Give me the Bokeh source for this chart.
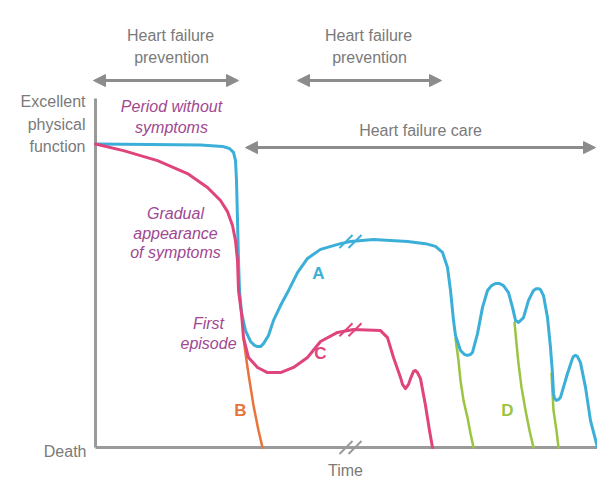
from bokeh.plotting import figure
from bokeh.models import Range1d, Arrow, NormalHead
from bokeh.core.properties import value
from bokeh.embed import file_html
from bokeh.resources import INLINE

# ---- data (time units, physical-function level 0 = death, 100 = excellent) ----
a_t = [0, 55, 105, 127, 134, 138, 140, 141, 142, 143, 144, 146, 150, 155, 159, 162, 165, 168, 173, 178,
       185, 192, 202, 212, 225, 245, 255, 278, 312, 330, 340, 347, 352, 355, 358, 360, 365, 369, 372, 375,
       377, 382, 387, 392, 396, 400, 404, 408, 413, 417, 420, 423, 428, 433, 438, 441, 443, 445, 448, 452,
       455, 457, 458, 459, 461, 463, 465, 472, 477, 478, 480, 482, 485, 490, 495, 502]
a_lvl = [100.5, 100.3, 100.2, 99.7, 99.0, 97.7, 95.0, 88.4, 75.2, 61.9, 52.0, 44.7, 38.7, 35.1, 33.8,
         33.4, 33.4, 34.4, 37.1, 42.1, 47.0, 51.3, 57.9, 62.6, 65.6, 67.5, 68.2, 68.9, 68.2, 67.5, 66.6,
         64.6, 59.6, 52.0, 42.1, 37.1, 32.1, 30.8, 30.5, 30.8, 31.5, 37.7, 46.4, 52.0, 53.6, 54.3, 54.3,
         53.6, 51.3, 46.4, 42.1, 41.4, 43.0, 48.7, 52.0, 52.6, 52.6, 52.3, 50.3, 43.0, 33.1, 24.5, 17.9,
         16.2, 15.6, 15.9, 16.6, 24.5, 29.5, 30.1, 30.5, 30.1, 28.1, 19.9, 8.9, 0.0]

c_t = [0, 28, 62, 92, 112, 125, 132, 137, 140, 142, 143, 146, 148, 153, 162, 172, 185, 198, 212, 225,
       242, 258, 285, 292, 298, 305, 307, 310, 313, 315, 318, 320, 322, 325, 330, 334, 337]
c_lvl = [100.5, 98.3, 95.0, 90.7, 86.1, 81.8, 78.1, 73.5, 68.5, 61.9, 52.0, 44.4, 36.4, 29.8, 26.5, 24.8,
         24.8, 26.5, 29.8, 35.1, 38.1, 39.1, 38.7, 36.4, 29.8, 23.2, 20.9, 19.5, 20.9, 22.8, 25.2, 25.5,
         24.8, 22.8, 13.9, 5.6, 0.0]

b_t = [148, 151, 154, 158, 163, 167]
b_lvl = [36.1, 28.8, 22.2, 13.9, 5.6, 0.0]

d1_t = [360, 363, 365, 368, 372, 375, 378]
d1_lvl = [36.1, 28.8, 22.2, 15.6, 9.9, 4.6, 0.0]
d2_t = [419, 421, 423, 426, 430, 434, 438]
d2_lvl = [41.4, 34.4, 27.8, 19.9, 12.3, 5.6, 0.0]
d3_t = [456, 457, 458, 461, 463]
d3_lvl = [24.5, 18.2, 12.3, 5.6, 0.0]

break_t = 255
break_lvls = [68.2, 39.0, 0.0]

BLUE = "#3cafd8"
PINK = "#e0447c"
ORANGE = "#e8743c"
GREEN = "#9cc443"
PURPLE = "#a04891"
GRAY = "#7a7a7a"
AXIS = "#9a9a9a"
ARROW = "#8c8c8c"
break_cols = [BLUE, PINK, AXIS]

p = figure(width=597, height=480, output_backend="svg", toolbar_location=None,
           x_range=Range1d(-95, 502), y_range=Range1d(-10.93, 148.01),
           x_axis_location=None, y_axis_location=None, min_border=0)
p.grid.visible = False
p.outline_line_color = None
p.background_fill_color = "white"

# axes of the diagram
p.line([0, 0], [115.6, 0], line_color=AXIS, line_width=3)
p.line([0, 504], [0, 0], line_color=AXIS, line_width=3)

# curves
for tt, ll in [(d1_t, d1_lvl), (d2_t, d2_lvl), (d3_t, d3_lvl)]:
    p.line(tt, ll, line_color=GREEN, line_width=2.5, line_join="round", line_cap="round")
p.line(b_t, b_lvl, line_color=ORANGE, line_width=2.5, line_join="round", line_cap="round")
p.line(a_t, a_lvl, line_color=BLUE, line_width=3, line_join="round", line_cap="round")
p.line(c_t, c_lvl, line_color=PINK, line_width=3, line_join="round", line_cap="round")

# break marks (//)
dx, dy = 6.5, 6.5 / 3.02
for lvl, col in zip(break_lvls, break_cols):
    for off in (-4.5, 4.5):
        cx = break_t + off
        p.segment(x0=[cx - dx], y0=[lvl - dy], x1=[cx + dx], y1=[lvl + dy],
                  line_color=col, line_width=2)

# arrows
def darrow(x0, x1, y):
    p.add_layout(Arrow(x_start=x0, y_start=y, x_end=x1, y_end=y,
                       line_color=ARROW, line_width=3,
                       start=NormalHead(size=12, fill_color=ARROW, line_color=ARROW),
                       end=NormalHead(size=12, fill_color=ARROW, line_color=ARROW)))

darrow(-2, 143, 121.5)
darrow(202, 346, 121.5)
darrow(150, 500, 99.3)

font = value("Liberation Sans")

def txt(x, y, s, color, align="center", style="normal", size="16px"):
    p.text(x=[x], y=[y], text=[s], text_color=color, text_align=align,
           text_baseline="middle", text_font=font, text_font_size=size,
           text_font_style=style)

txt(75, 136.4, "Heart failure", GRAY)
txt(76, 129.1, "prevention", GRAY)
txt(273, 136.4, "Heart failure", GRAY)
txt(274, 129.1, "prevention", GRAY)
txt(325, 105.0, "Heart failure care", GRAY)

txt(-10, 114.6, "Excellent", GRAY, align="right")
txt(-10, 107.0, "physical", GRAY, align="right")
txt(-10, 99.7, "function", GRAY, align="right")
txt(-9, -1.3, "Death", GRAY, align="right")
txt(250, -7.6, "Time", GRAY)

txt(76, 112.9, "Period without", PURPLE, style="italic")
txt(76, 106.0, "symptoms", PURPLE, style="italic")
txt(80, 77.5, "Gradual", PURPLE, style="italic")
txt(80, 70.9, "appearance", PURPLE, style="italic")
txt(80, 64.6, "of symptoms", PURPLE, style="italic")
txt(113, 41.1, "First", PURPLE, style="italic")
txt(113, 34.4, "episode", PURPLE, style="italic")

txt(223, 57.6, "A", BLUE, style="bold", size="17px")
txt(225, 31.1, "C", PINK, style="bold", size="17px")
txt(145, 12.3, "B", ORANGE, style="bold", size="17px")
txt(412, 12.3, "D", GREEN, style="bold", size="17px")

open("out.html", "w").write(file_html(p, INLINE))
